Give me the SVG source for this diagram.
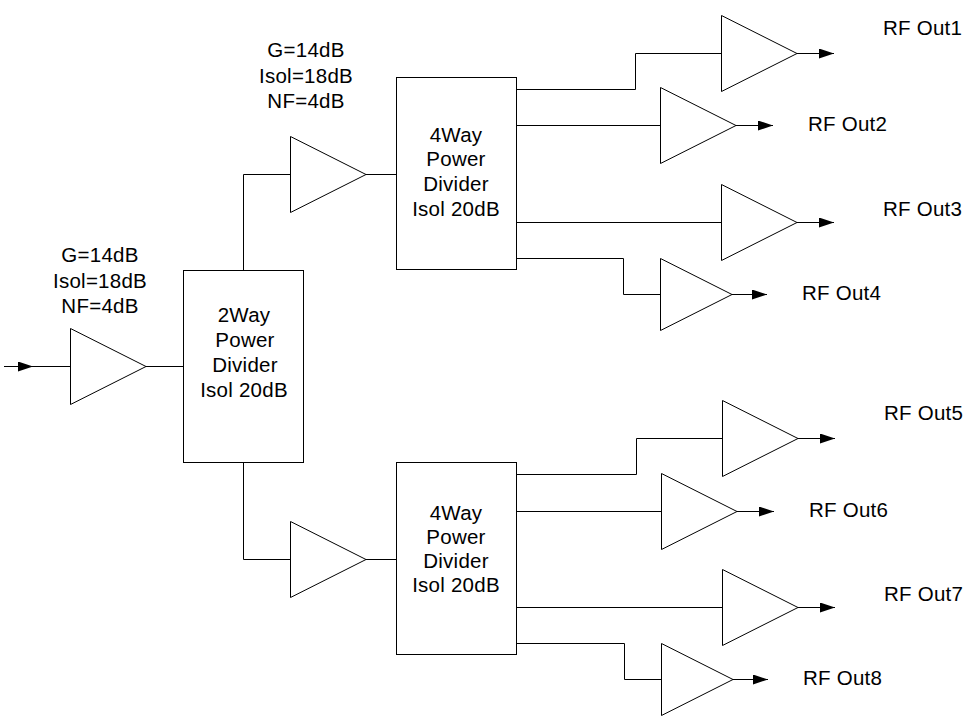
<svg xmlns="http://www.w3.org/2000/svg" width="979" height="719" viewBox="0 0 979 719">
<defs>
<marker id="ah" markerUnits="userSpaceOnUse" markerWidth="16" markerHeight="12" refX="15" refY="5" orient="auto">
<path d="M0,0 L15,5 L0,10 z" fill="#000"/>
</marker>
</defs>
<style>
.amp{fill:#fff;stroke:#000;stroke-width:1}
.box{fill:#fff;stroke:#000;stroke-width:1}
.w{fill:none;stroke:#000;stroke-width:1}
.arr{fill:none;stroke:#000;stroke-width:1;marker-end:url(#ah)}
text{font-family:"Liberation Sans",Arial,sans-serif;font-size:20.5px;letter-spacing:0.25px;fill:#000}
.c{text-anchor:middle}
</style>
<rect width="979" height="719" fill="#fff"/>
<g id="connectors">
<line class="arr" x1="4" y1="366.5" x2="33" y2="366.5"/>
<line class="w" x1="33" y1="366.5" x2="70" y2="366.5"/>
<line class="w" x1="146" y1="366.5" x2="183" y2="366.5"/>
<polyline class="w" points="243.5,270 243.5,174.5 290,174.5"/>
<line class="w" x1="366" y1="174.5" x2="396" y2="174.5"/>
<polyline class="w" points="243.5,462 243.5,559.5 290,559.5"/>
<line class="w" x1="366" y1="559.5" x2="396" y2="559.5"/>
<polyline class="w" points="516,89.5 635.5,89.5 635.5,53.5 721,53.5"/>
<line class="w" x1="516" y1="125.5" x2="660" y2="125.5"/>
<line class="w" x1="516" y1="222.5" x2="721" y2="222.5"/>
<polyline class="w" points="516,258.5 623.5,258.5 623.5,294.5 660,294.5"/>
<polyline class="w" points="516,474.5 636.5,474.5 636.5,438.5 722,438.5"/>
<line class="w" x1="516" y1="511.5" x2="661" y2="511.5"/>
<line class="w" x1="516" y1="607.5" x2="722" y2="607.5"/>
<polyline class="w" points="516,643.5 624.5,643.5 624.5,679.5 661,679.5"/>
<line class="arr" x1="797" y1="53.5" x2="834" y2="53.5"/>
<line class="arr" x1="736" y1="125.5" x2="773" y2="125.5"/>
<line class="arr" x1="797" y1="222.5" x2="834" y2="222.5"/>
<line class="arr" x1="732" y1="294.5" x2="767" y2="294.5"/>
<line class="arr" x1="798" y1="438.5" x2="835" y2="438.5"/>
<line class="arr" x1="737" y1="511.5" x2="774" y2="511.5"/>
<line class="arr" x1="798" y1="607.5" x2="835" y2="607.5"/>
<line class="arr" x1="733" y1="679.5" x2="768" y2="679.5"/>
</g>
<g id="amp-in">
<polygon class="amp" points="70.5,328.5 70.5,404.5 146,366.5"/>
<text class="c" x="100" y="262">G=14dB</text>
<text class="c" x="100" y="288">Isol=18dB</text>
<text class="c" x="100" y="313">NF=4dB</text>
</g>
<g id="div2">
<rect class="box" x="183.5" y="270.5" width="120" height="192"/>
<text class="c" x="244" y="321.5">2Way</text>
<text class="c" x="245" y="346.5">Power</text>
<text class="c" x="245" y="371.5">Divider</text>
<text class="c" x="244" y="396.5">Isol 20dB</text>
</g>
<g id="amp-top">
<polygon class="amp" points="290.5,136.5 290.5,212.5 366,174.5"/>
<text class="c" x="306" y="57">G=14dB</text>
<text class="c" x="306" y="83">Isol=18dB</text>
<text class="c" x="306" y="108">NF=4dB</text>
</g>
<g id="amp-bot">
<polygon class="amp" points="290.5,521.5 290.5,597.5 366,559.5"/>
</g>
<g id="div4-top">
<rect class="box" x="396.5" y="77.5" width="120" height="192"/>
<text class="c" x="456" y="141.5">4Way</text>
<text class="c" x="456" y="166">Power</text>
<text class="c" x="456" y="191">Divider</text>
<text class="c" x="456" y="216">Isol 20dB</text>
</g>
<g id="div4-bot">
<rect class="box" x="396.5" y="462.5" width="120" height="192"/>
<text class="c" x="456" y="520">4Way</text>
<text class="c" x="456" y="544">Power</text>
<text class="c" x="456" y="568">Divider</text>
<text class="c" x="456" y="592">Isol 20dB</text>
</g>
<g id="out1">
<polygon class="amp" points="721.5,15.5 721.5,91.5 797,53.5"/>
<text x="883" y="35">RF Out1</text>
</g>
<g id="out2">
<polygon class="amp" points="660.5,87.5 660.5,163.5 736,125.5"/>
<text x="808" y="131">RF Out2</text>
</g>
<g id="out3">
<polygon class="amp" points="721.5,184.5 721.5,260.5 797,222.5"/>
<text x="883" y="216">RF Out3</text>
</g>
<g id="out4">
<polygon class="amp" points="660.5,258.5 660.5,330.5 732,294.5"/>
<text x="802" y="300">RF Out4</text>
</g>
<g id="out5">
<polygon class="amp" points="722.5,400.5 722.5,476.5 798,438.5"/>
<text x="884" y="420">RF Out5</text>
</g>
<g id="out6">
<polygon class="amp" points="661.5,473.5 661.5,549.5 737,511.5"/>
<text x="809" y="517">RF Out6</text>
</g>
<g id="out7">
<polygon class="amp" points="722.5,569.5 722.5,645.5 798,607.5"/>
<text x="884" y="601">RF Out7</text>
</g>
<g id="out8">
<polygon class="amp" points="661.5,643.5 661.5,715.5 733,679.5"/>
<text x="803" y="685">RF Out8</text>
</g>
</svg>
